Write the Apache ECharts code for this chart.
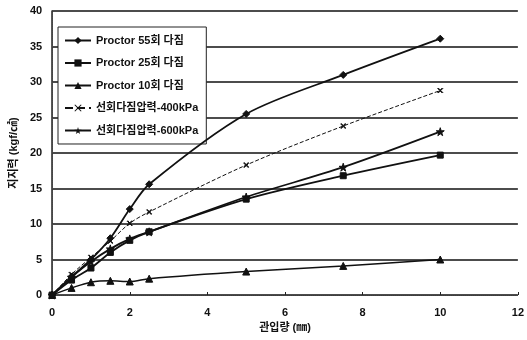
<!DOCTYPE html>
<html><head><meta charset="utf-8">
<script src="https://cdn.jsdelivr.net/npm/echarts@6/dist/echarts.min.js"></script>
<style>html,body{margin:0;padding:0;background:#fff}#c{width:527px;height:340px}</style>
</head><body><div id="c"></div>
<script>
const xValues = [0, 0.5, 1, 1.5, 2, 2.5, 5, 7.5, 10];
const seriesNames = ['Proctor 55회 다짐', 'Proctor 25회 다짐', 'Proctor 10회 다짐', '선회다짐압력-400kPa', '선회다짐압력-600kPa'];
const proctor55 = [0, 2.6, 5.0, 8.0, 12.1, 15.6, 25.5, 31.0, 36.1];
const proctor25 = [0, 2.1, 3.8, 6.0, 7.7, 8.9, 13.5, 16.8, 19.7];
const proctor10 = [0, 1.0, 1.8, 2.0, 1.9, 2.3, 3.3, 4.1, 5.0];
const gyratory400 = [0, 2.9, 5.3, 7.6, 10.1, 11.7, 18.3, 23.8, 28.8];
const gyratory600 = [0, 2.5, 4.7, 6.5, 7.9, 8.9, 13.8, 18.0, 23.0];
const xTicks = [0, 2, 4, 6, 8, 10, 12];
const yTicks = [0, 5, 10, 15, 20, 25, 30, 35, 40];

const star = 'path://M50,0 L61,35 L98,35 L68,57 L79,91 L50,70 L21,91 L32,57 L2,35 L39,35 Z';
const cross = 'path://M0,10 L10,0 L50,40 L90,0 L100,10 L60,50 L100,90 L90,100 L50,60 L10,100 L0,90 L40,50 Z';

function pairs(ys){ return xValues.map((x,i)=>[x, ys[i]]); }
const cfg = [
  {data: proctor55, symbol: 'diamond', size: 7, width: 1.8},
  {data: proctor25, symbol: 'rect', size: 6, width: 1.8},
  {data: proctor10, symbol: 'triangle', size: 7, width: 1.5},
  {data: gyratory400, symbol: cross, size: 5, width: 1, type: 'dashed'},
  {data: gyratory600, symbol: star, size: 8, width: 1.8}
];
const font = '"Liberation Sans", "Noto Sans CJK KR", sans-serif';
const chart = echarts.init(document.getElementById('c'));
chart.setOption({
  animation: false,
  backgroundColor: '#fff',
  grid: {left: 43, right: 8, top: 11, bottom: 45},
  legend: {
    orient: 'vertical', left: 58, top: 27, padding: [8, 8, 8, 6],
    itemGap: 11.5, itemWidth: 26, itemHeight: 9,
    backgroundColor: '#fff', borderColor: '#222', borderWidth: 1,
    textStyle: {fontFamily: font, fontSize: 11, fontWeight: 'bold', color: '#111'},
    data: seriesNames
  },
  xAxis: [{
    type: 'value', min: 0, max: 12, interval: 2,
    name: '관입량 (㎜)', nameLocation: 'middle', nameGap: 26,
    nameTextStyle: {fontFamily: font, fontSize: 11, fontWeight: 'bold', color: '#111'},
    axisLine: {lineStyle: {color: '#222', type: 'dotted', width: 1}},
    axisTick: {show: true, inside: true, length: 3, lineStyle: {color: '#222'}},
    axisLabel: {fontFamily: font, fontSize: 11, fontWeight: 'bold', color: '#111', margin: 12,
      formatter: v => xTicks.includes(v) ? String(v) : ''},
    splitLine: {show: false}
  }, {
    type: 'value', min: 0, max: 12, position: 'top',
    axisLine: {show: true, lineStyle: {color: '#444', type: 'dotted'}},
    axisTick: {show: false}, axisLabel: {show: false}, splitLine: {show: false}
  }],
  yAxis: [{
    type: 'value', min: 0, max: 40, interval: 5,
    name: '지지력 (kgf/㎠)', nameLocation: 'middle', nameGap: 26, nameRotate: 90,
    nameTextStyle: {fontFamily: font, fontSize: 11, fontWeight: 'bold', color: '#111'},
    axisLine: {show: true, lineStyle: {color: '#222', width: 1.5}},
    axisTick: {show: false},
    axisLabel: {fontFamily: font, fontSize: 11, fontWeight: 'bold', color: '#111', margin: 10,
      formatter: v => yTicks.includes(v) ? String(v) : ''},
    splitLine: {show: true, lineStyle: {color: '#111', width: 1.5}}
  }, {
    type: 'value', min: 0, max: 40, position: 'right',
    axisLine: {show: true, lineStyle: {color: '#444', type: 'dotted'}},
    axisTick: {show: false}, axisLabel: {show: false}, splitLine: {show: false}
  }],
  series: cfg.map((c, i) => ({
    name: seriesNames[i], type: 'line', smooth: 0.3,
    data: pairs(c.data), symbol: c.symbol, symbolSize: c.size,
    lineStyle: {color: '#111', width: c.width, type: c.type || 'solid'},
    itemStyle: {color: '#111', borderColor: '#111'},
    z: 5 - i
  }))
});
</script></body></html>
